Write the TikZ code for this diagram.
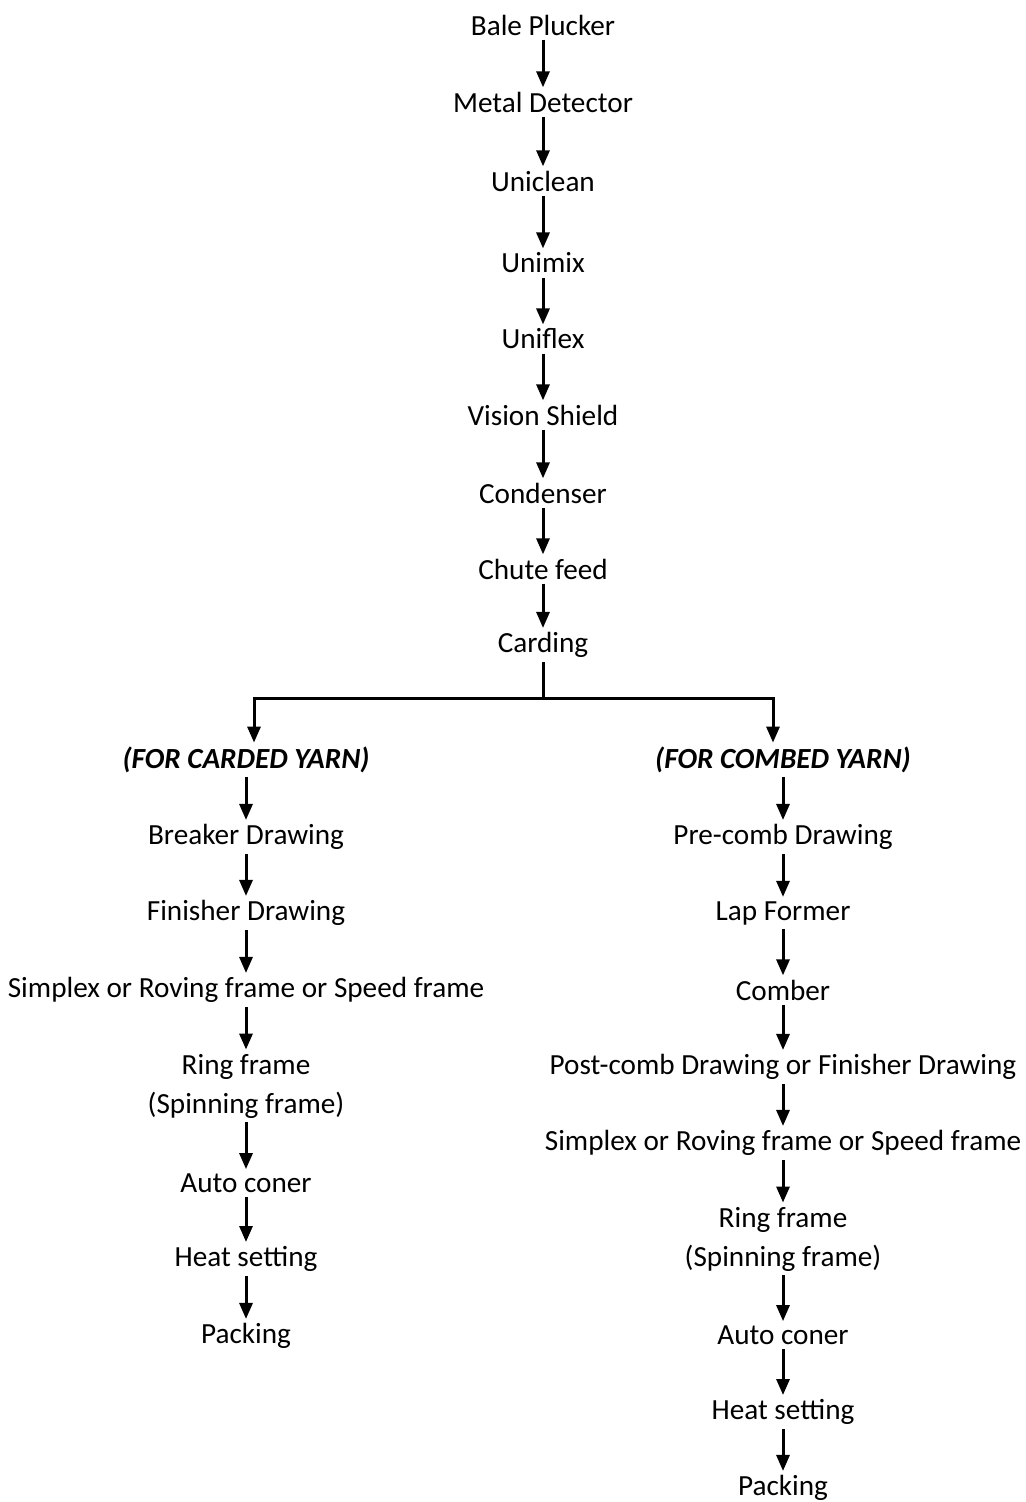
\documentclass[tikz,border=0pt]{standalone}
\usepackage{fontspec}
\setmainfont{Carlito}
\usetikzlibrary{arrows.meta}
\begin{document}
\begin{tikzpicture}[x=0.5pt, y=-0.5pt, every node/.style={font=\fontsize{14.6}{19.5}\selectfont, inner sep=2pt, align=center}, arr/.style={-{Triangle[width=6.5pt,length=8pt]}, line width=1.5pt}, yarn/.style={font=\fontsize{14.6}{19.5}\selectfont\bfseries\itshape}]
\useasboundingbox (0,0) rectangle (1025,1502);
\node (bale) at (543,25) {Bale Plucker};
\node (metal) at (543,102) {Metal Detector};
\node (uniclean) at (543,181) {Uniclean};
\node (unimix) at (543,263) {Unimix};
\node (uniflex) at (543,339) {Uniflex};
\node (vision) at (543,415) {Vision Shield};
\node (condenser) at (543,493) {Condenser};
\node (chute) at (543,569) {Chute feed};
\node (carding) at (543,645) {Carding};
\coordinate (split) at (543,698);
\node[yarn] (carded) at (246,760) {(FOR CARDED YARN)};
\node (breaker) at (246,837) {Breaker Drawing};
\node (finisher) at (246,913) {Finisher Drawing};
\node (simplexA) at (246,990) {Simplex or Roving frame or Speed frame};
\node (ringA) at (246,1086) {Ring frame\\(Spinning frame)};
\node (conerA) at (246,1183) {Auto coner};
\node (heatA) at (246,1259) {Heat setting};
\node (packA) at (246,1336) {Packing};
\node[yarn] (combed) at (783,760) {(FOR COMBED YARN)};
\node (precomb) at (783,837) {Pre-comb Drawing};
\node (lap) at (783,913) {Lap Former};
\node (comber) at (783,990) {Comber};
\node (postcomb) at (783,1067) {Post-comb Drawing or Finisher Drawing};
\node (simplexB) at (783,1143) {Simplex or Roving frame or Speed frame};
\node (ringB) at (783,1239) {Ring frame\\(Spinning frame)};
\node (conerB) at (783,1335) {Auto coner};
\node (heatB) at (783,1412) {Heat setting};
\node (packB) at (783,1488) {Packing};
\draw[arr] (bale) -- (metal);
\draw[arr] (metal) -- (uniclean);
\draw[arr] (uniclean) -- (unimix);
\draw[arr] (unimix) -- (uniflex);
\draw[arr] (uniflex) -- (vision);
\draw[arr] (vision) -- (condenser);
\draw[arr] (condenser) -- (chute);
\draw[arr] (chute) -- (carding);
\draw[line width=1.5pt] (carding) -- (split);
\draw[arr] (split) -| ([xshift=4pt]carded.north);
\draw[arr] (split) -| ([xshift=-5pt]combed.north);
\draw[arr] (carded) -- (breaker);
\draw[arr] (breaker) -- (finisher);
\draw[arr] (finisher) -- (simplexA);
\draw[arr] (simplexA) -- (ringA);
\draw[arr] (ringA) -- (conerA);
\draw[arr] (conerA) -- (heatA);
\draw[arr] (heatA) -- (packA);
\draw[arr] (combed) -- (precomb);
\draw[arr] (precomb) -- (lap);
\draw[arr] (lap) -- (comber);
\draw[arr] (comber) -- (postcomb);
\draw[arr] (postcomb) -- (simplexB);
\draw[arr] (simplexB) -- (ringB);
\draw[arr] (ringB) -- (conerB);
\draw[arr] (conerB) -- (heatB);
\draw[arr] (heatB) -- (packB);
\end{tikzpicture}
\end{document}
